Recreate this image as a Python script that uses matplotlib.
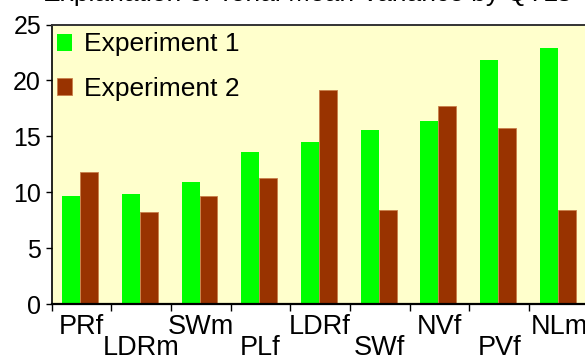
import matplotlib
matplotlib.use("Agg")
import matplotlib.pyplot as plt
import numpy as np

plt.rcParams['font.family'] = ['Liberation Sans', 'DejaVu Sans']

categories = ["PRf", "LDRm", "SWm", "PLf", "LDRf", "SWf", "NVf", "PVf", "NLm"]
exp1 = [9.7, 9.8, 10.9, 13.6, 14.5, 15.6, 16.4, 21.8, 22.9]
exp2 = [11.8, 8.2, 9.7, 11.3, 19.1, 8.4, 17.7, 15.7, 8.4]
title = "Explanation of Tonal Mean Variance by QTLs"

W, H = 585, 360
fig = plt.figure(figsize=(W / 100, H / 100), dpi=100)
fig.patch.set_facecolor("white")

# axes run past the right edge of the picture (the original is cropped)
left, bottom, top = 51.5, 304, 24.5
cat_w = 59.7
ax = fig.add_axes([left / W, (H - bottom) / H, 10 * cat_w / W, (bottom - top) / H])
ax.set_facecolor("#FFFFCC")

x = np.arange(len(categories))
ax.bar(x + 0.33, exp1, width=0.3, color="#00FF00", edgecolor="none", label="Experiment 1")
ax.bar(x + 0.63, exp2, width=0.3, color="#993300", edgecolor="#C8804A", linewidth=0.6,
       label="Experiment 2")

ax.set_xlim(0, 10)
ax.set_ylim(0, 25)
ax.set_yticks([0, 5, 10, 15, 20, 25])
ax.tick_params(axis="y", labelsize=18, length=4.5, width=1, pad=3, direction="out")

ax.set_xticks(x + 0.5)
ax.set_xticklabels(categories, fontsize=19.5)
ax.set_xticks(np.arange(0, 11), minor=True)
ax.tick_params(axis="x", which="major", length=0, pad=7)
ax.tick_params(axis="x", which="minor", length=5, width=1, direction="out")
for i, t in enumerate(ax.xaxis.get_major_ticks()):
    if i % 2 == 1:
        t.set_pad(22.5)

for s in ["left", "bottom"]:
    ax.spines[s].set_color("black")
ax.spines["left"].set_linewidth(1.2)
ax.spines["bottom"].set_linewidth(1.6)
ax.spines["top"].set_color("#333333")
ax.spines["top"].set_linewidth(1.4)

ax.legend(loc="upper left", frameon=False, fontsize=19, handlelength=0.6,
          handleheight=0.6, handletextpad=0.45, labelspacing=0.78,
          borderpad=0.0, borderaxespad=0.0,
          bbox_to_anchor=(5 / (10 * cat_w), 1 - 8 / (bottom - top)))

fig.text(43 / W, 1 - 1 / H, title, fontsize=19, va="baseline", ha="left")

fig.savefig("out.png", dpi=100)
